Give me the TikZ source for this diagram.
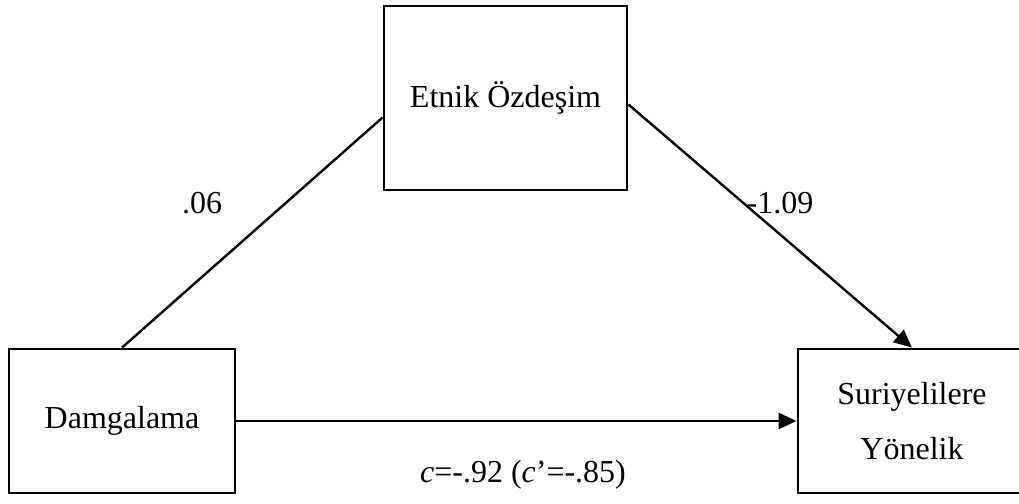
\documentclass[tikz,border=0pt]{standalone}
\usepackage{fontspec}
\setmainfont{Liberation Serif}
\usetikzlibrary{arrows.meta}
\begin{document}
\begin{tikzpicture}[x=0.5pt,y=-0.5pt,
  box/.style={draw=black,line width=1.4pt,rectangle,inner sep=0pt,
    font=\fontsize{16}{27.5}\selectfont,align=center},
  conn/.style={line width=1.2pt,draw=black},
  arr/.style={conn,-{Triangle[length=9pt,width=8pt]}},
  lbl/.style={font=\fontsize{16}{19}\selectfont,inner sep=0pt}]
\useasboundingbox (0,0) rectangle (1019,504);
\clip (0,0) rectangle (1019,504);
\node[box,minimum width=121.5pt,minimum height=92pt] (top) at (505.5,98) {Etnik Özdeşim};
\node[box,minimum width=113pt,minimum height=72pt] (dam) at (122,421) {Damgalama};
\node[box,minimum width=140pt,minimum height=72pt] (sur) at (938,421)
  {\begin{tabular}{@{}c@{\hspace{26pt}}}Suriyelilere\\Yönelik\end{tabular}};
\draw[conn] (top.189.3) -- (dam.north);
\draw[arr] (top.357.6) -- (sur.north -| 912,0);
\draw[arr] (dam.east) -- (sur.west);
\node[lbl] (a) at (202,203) {.06};
\node[lbl] (b) at (780,203) {-1.09};
\node[lbl] (c) at (523,475) {\textit{c}=-.92 (\textit{c}'=-.85)};
\end{tikzpicture}
\end{document}
